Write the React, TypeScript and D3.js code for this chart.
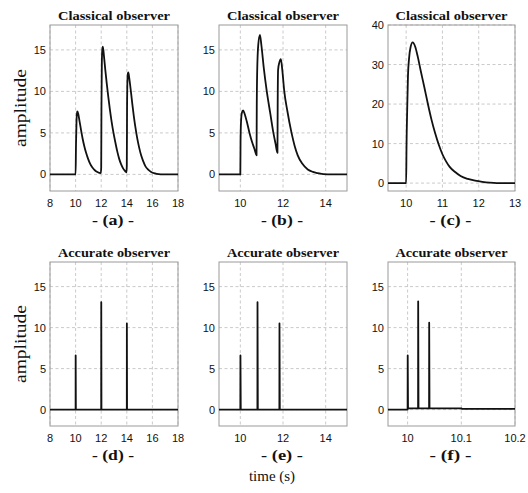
import React from 'react';
import * as d3 from 'd3';

// ---------- data ----------
const tA = [8, 10, 10.03, 10.07, 10.11, 10.14, 10.22, 10.32, 10.43, 10.55, 10.68, 10.82, 10.97, 11.13, 11.3, 11.5, 11.7, 11.97,
  12.0, 12.02, 12.05, 12.09, 12.13, 12.22, 12.32, 12.43, 12.55, 12.68, 12.81, 12.95, 13.1, 13.25, 13.4, 13.56, 13.72, 13.9, 13.97,
  14.0, 14.02, 14.05, 14.09, 14.12, 14.2, 14.32, 14.43, 14.55, 14.68, 14.82, 14.97, 15.12, 15.28, 15.45, 15.65, 15.9, 16.2, 16.5, 16.8, 18];
const yA = [0, 0, 3.5, 6.3, 7.4, 7.6, 7.2, 6.3, 5.3, 4.3, 3.4, 2.6, 1.9, 1.3, 0.85, 0.5, 0.28, 0.15,
  0.8, 8, 13.5, 15.1, 15.4, 14.2, 12.6, 11, 9.4, 7.8, 6.4, 5.1, 3.9, 2.8, 1.9, 1.2, 0.7, 0.35, 0.25,
  1.0, 8, 11.3, 12.2, 12.3, 11.5, 10, 8.5, 7, 5.6, 4.3, 3.2, 2.3, 1.6, 1.0, 0.6, 0.3, 0.12, 0.03, 0, 0];

const tB = [9, 10, 10.01, 10.03, 10.07, 10.13, 10.2, 10.3, 10.43, 10.55, 10.67, 10.76,
  10.77, 10.79, 10.84, 10.92, 10.99, 11.1, 11.24, 11.4, 11.55, 11.65, 11.74,
  11.75, 11.77, 11.83, 11.9, 11.97, 12.06, 12.2, 12.4, 12.55, 12.69, 12.9, 13.16, 13.4, 13.63, 14.1, 15];
const yB = [0, 0, 4, 6.2, 7.4, 7.7, 7.3, 6.4, 5.0, 3.9, 3.0, 2.3,
  8, 12.4, 15.6, 16.8, 15.5, 12.8, 10, 7.4, 5.0, 3.7, 2.6,
  8, 12.6, 13.5, 13.9, 12.5, 10, 7.7, 5.0, 3.4, 2.3, 1.3, 0.6, 0.3, 0.15, 0, 0];

const tC = [9.5, 10, 10.01, 10.03, 10.05, 10.08, 10.12, 10.18, 10.25, 10.32, 10.4, 10.5, 10.6, 10.7, 10.8,
  10.9, 11.0, 11.1, 11.2, 11.35, 11.5, 11.7, 11.9, 12.1, 12.3, 12.5, 13];
const yC = [0, 0, 9, 19, 27, 31.5, 34.3, 35.6, 34.5, 32, 28.5, 24.3, 20, 16, 12.6,
  9.7, 7.3, 5.5, 4.1, 2.8, 1.8, 1.05, 0.6, 0.3, 0.1, 0, 0];

const tD = [8, 10, 10.005, 10.02, 12, 12.005, 12.02, 14, 14.005, 14.02, 18];
const yD = [0, 0, 6.6, 0, 0, 13.1, 0, 0, 10.5, 0, 0];

const tE = [9, 10, 10.005, 10.02, 10.8, 10.805, 10.82, 11.83, 11.835, 11.85, 15];
const yE = [0, 0, 6.6, 0, 0, 13.1, 0, 0, 10.5, 0, 0];

const tF = [9.9635, 10, 10.0002, 10.0008, 10.0195, 10.0197, 10.0203, 10.04, 10.0402, 10.0408, 10.1, 10.102, 10.2];
const yF = [0, 0, 6.6, 0.15, 0.15, 13.2, 0.15, 0.15, 10.6, 0.15, 0.15, 0.08, 0.08];

const xTicksAD = [8, 10, 12, 14, 16, 18];
const xTicksBE = [10, 12, 14];
const xTicksC = [10, 11, 12, 13];
const xTicksF = [10, 10.1, 10.2];
const yTicks = [0, 5, 10, 15];
const yTicksC = [0, 10, 20, 30, 40];

const titleTop = 'Classical observer';
const titleBottom = 'Accurate observer';
const letters = ['a', 'b', 'c', 'd', 'e', 'f'];
const yLabel = 'amplitude';
const xLabel = 'time (s)';

// ---------- layout ----------
const cols = [[50, 178], [219, 347], [388, 515]];
const rows = [[25, 191], [262, 426]];

const SERIF = '"Liberation Serif", "Times New Roman", serif';
const SANS = '"Liberation Sans", Arial, Helvetica, sans-serif';

type Panel = {
  t: number[]; y: number[]; xd: [number, number]; yd: [number, number];
  xt: number[]; yt: number[]; col: number; row: number; smooth: boolean;
};

const panels: Panel[] = [
  { t: tA, y: yA, xd: [8, 18], yd: [-2, 18], xt: xTicksAD, yt: yTicks, col: 0, row: 0, smooth: true },
  { t: tB, y: yB, xd: [9, 15], yd: [-2, 18], xt: xTicksBE, yt: yTicks, col: 1, row: 0, smooth: true },
  { t: tC, y: yC, xd: [9.5, 13], yd: [-2, 40], xt: xTicksC, yt: yTicksC, col: 2, row: 0, smooth: true },
  { t: tD, y: yD, xd: [8, 18], yd: [-2, 18], xt: xTicksAD, yt: yTicks, col: 0, row: 1, smooth: false },
  { t: tE, y: yE, xd: [9, 15], yd: [-2, 18], xt: xTicksBE, yt: yTicks, col: 1, row: 1, smooth: false },
  { t: tF, y: yF, xd: [9.9635, 10.2], yd: [-2, 18], xt: xTicksF, yt: yTicks, col: 2, row: 1, smooth: false },
];

function PanelView({ p, idx }: { p: Panel; idx: number }) {
  const [x0, x1] = cols[p.col];
  const [y0, y1] = rows[p.row];
  const xs = d3.scaleLinear().domain(p.xd).range([x0, x1]);
  const ys = d3.scaleLinear().domain(p.yd).range([y1, y0]);
  const pts = p.t.map((t, i) => [t, p.y[i]] as [number, number]);
  const line = d3.line<[number, number]>()
    .x(d => xs(d[0]))
    .y(d => ys(d[1]))
    .curve(p.smooth ? d3.curveMonotoneX : d3.curveLinear);
  const cx = (x0 + x1) / 2;
  const title = p.row === 0 ? titleTop : titleBottom;
  return (
    <g>
      {p.xt.map(v => (
        <line key={'gx' + v} x1={xs(v)} x2={xs(v)} y1={y0} y2={y1}
          stroke="#c4c4c4" strokeWidth={0.9} strokeDasharray="3,2.5" />
      ))}
      {p.yt.map(v => (
        <line key={'gy' + v} x1={x0} x2={x1} y1={ys(v)} y2={ys(v)}
          stroke="#c4c4c4" strokeWidth={0.9} strokeDasharray="3,2.5" />
      ))}
      <rect x={x0} y={y0} width={x1 - x0} height={y1 - y0} fill="none" stroke="#9a9a9a" strokeWidth={1} />
      <path d={line(pts) || ''} fill="none" stroke="#111" strokeWidth={1.8}
        strokeLinejoin="round" strokeLinecap="butt" />
      {p.xt.map(v => (
        <text key={'tx' + v} x={xs(v)} y={y1 + 16} textAnchor="middle"
          fontFamily={SANS} fontSize={11} fill="#111">{String(v)}</text>
      ))}
      {p.yt.map(v => (
        <text key={'ty' + v} x={x0 - 4} y={ys(v) + 4} textAnchor="end"
          fontFamily={SANS} fontSize={11} fill="#111">{String(v)}</text>
      ))}
      <text x={cx} y={y0 - 5} textAnchor="middle" fontFamily={SERIF} fontWeight="bold"
        fontSize={13.5} fill="#111" textLength={112} lengthAdjust="spacingAndGlyphs">{title}</text>
      <text x={cx - 1} y={y1 + 34} textAnchor="middle" fontFamily={SERIF} fontWeight="bold"
        fontSize={15.5} fill="#111" textLength={42} lengthAdjust="spacingAndGlyphs">{`- (${letters[idx]}) -`}</text>
    </g>
  );
}

export default function App() {
  return (
    <svg width={528} height={493} style={{ position: 'absolute', left: 0, top: 0, background: '#fff' }}>
      <rect x={0} y={0} width={528} height={493} fill="#fff" />
      {panels.map((p, i) => <PanelView key={i} p={p} idx={i} />)}
      {rows.map((r, i) => (
        <text key={'yl' + i} transform={`translate(26,${(r[0] + r[1]) / 2}) rotate(-90)`}
          textAnchor="middle" fontFamily={SERIF} fontSize={17} fill="#111"
          textLength={78} lengthAdjust="spacingAndGlyphs">{yLabel}</text>
      ))}
      <text x={272} y={481} textAnchor="middle" fontFamily={SERIF} fontSize={15} fill="#111">{xLabel}</text>
    </svg>
  );
}
